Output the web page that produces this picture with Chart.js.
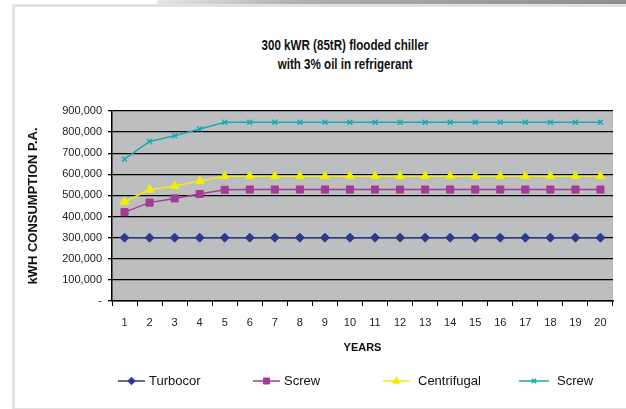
<!DOCTYPE html>
<html>
<head>
<meta charset="utf-8">
<script src="https://cdn.jsdelivr.net/npm/chart.js@4/dist/chart.umd.min.js"></script>
<style>
  html, body { margin: 0; padding: 0; background: #ffffff; }
  #wrap { position: relative; width: 626px; height: 409px; overflow: hidden; background: #fff; }
  #topbar { position: absolute; left: 157px; top: 0; width: 469px; height: 4px;
            background: linear-gradient(to right, #e6e6e6 0%, #b0b0b0 30%, #8e8e8e 100%); }
  #frame { position: absolute; left: 12px; top: 4px; width: 640px; height: 401px;
           border: 3px solid #e2e2e2; box-sizing: content-box; }
  #title { position: absolute; left: 195px; top: 36px; width: 300px; text-align: center;
           font-family: "Liberation Sans", sans-serif;
           font-weight: bold; font-size: 14.5px; line-height: 19px; color: #111;
           transform: scaleX(0.8); transform-origin: 150px 0; }
  canvas { position: absolute; left: 0; top: 0; }
</style>
</head>
<body>
<div id="wrap">
  <div id="topbar"></div>
  <div id="frame"></div>
  <div id="title">300 kWR (85tR) flooded chiller<br>with 3% oil in refrigerant</div>
  <canvas id="c" width="626" height="409"></canvas>
</div>
<script>
const years = ["1","2","3","4","5","6","7","8","9","10","11","12","13","14","15","16","17","18","19","20"];
const turbocor = [300000,300000,300000,300000,300000,300000,300000,300000,300000,300000,300000,300000,300000,300000,300000,300000,300000,300000,300000,300000];
const screw = [421000,466000,486000,507000,527000,528000,528000,528000,528000,528000,528000,528000,528000,528000,528000,528000,528000,528000,528000,528000];
const centrifugal = [470000,527000,545000,568000,591000,591000,591000,591000,591000,591000,591000,591000,591000,591000,591000,591000,591000,591000,591000,591000];
const screw2 = [672000,756000,783000,815000,847000,847000,847000,847000,847000,847000,847000,847000,847000,847000,847000,847000,847000,847000,847000,847000];
const seriesNames = ["Turbocor","Screw","Centrifugal","Screw"];
const yTicks = [0,100000,200000,300000,400000,500000,600000,700000,800000,900000];

const FONT = '"Liberation Sans", Arial, sans-serif';

const plotBg = {
  id: 'plotBg',
  beforeDraw(chart) {
    const {ctx, chartArea: a} = chart;
    ctx.save();
    ctx.fillStyle = '#bdbec0';
    ctx.fillRect(a.left, a.top, a.right - a.left, a.bottom - a.top);
    ctx.restore();
  }
};

const legendXs = [118, 253, 383, 519];
const customLegend = {
  id: 'customLegend',
  afterDraw(chart) {
    const ctx = chart.ctx;
    const y = 381;
    ctx.save();
    chart.data.datasets.forEach((ds, i) => {
      const x0 = legendXs[i];
      const lineW = i === 3 ? 30 : 27;
      ctx.strokeStyle = ds.borderColor;
      ctx.lineWidth = 1.5;
      ctx.beginPath();
      ctx.moveTo(x0, y);
      ctx.lineTo(x0 + lineW, y);
      ctx.stroke();
      ctx.fillStyle = ds.pointBackgroundColor;
      ctx.strokeStyle = ds.pointBorderColor;
      ctx.lineWidth = ds.pointBorderWidth;
      const opts = {pointStyle: ds.pointStyle, radius: ds.pointRadius * 0.85, rotation: 0, borderWidth: ds.pointBorderWidth};
      Chart.helpers.drawPoint(ctx, opts, x0 + lineW / 2, y);
      ctx.fillStyle = '#111';
      ctx.font = '13px ' + FONT;
      ctx.textBaseline = 'middle';
      ctx.textAlign = 'left';
      const gap = (i === 2 || i === 3) ? 8 : 4;
      ctx.fillText(ds.label, x0 + lineW + gap, y);
    });
    ctx.restore();
  }
};

new Chart(document.getElementById('c'), {
  type: 'line',
  data: {
    labels: years,
    datasets: [
      { label: seriesNames[0], data: turbocor, borderColor: '#2b3a8f', backgroundColor: '#2b3a8f',
        pointStyle: 'rectRot', pointRadius: 4.5, pointBackgroundColor: '#2b3a8f', pointBorderColor: '#2b3a8f', pointBorderWidth: 1, borderWidth: 1.5 },
      { label: seriesNames[1], data: screw, borderColor: '#a63a98', backgroundColor: '#a63a98',
        pointStyle: 'rect', pointRadius: 5, pointBackgroundColor: '#a63a98', pointBorderColor: '#a63a98', pointBorderWidth: 1, borderWidth: 1.5 },
      { label: seriesNames[2], data: centrifugal, borderColor: '#eeee10', backgroundColor: '#eeee10',
        pointStyle: 'triangle', pointRadius: 5, pointBackgroundColor: '#f0f000', pointBorderColor: '#f0f000', pointBorderWidth: 1, borderWidth: 1.5 },
      { label: seriesNames[3], data: screw2, borderColor: '#1aa8b8', backgroundColor: '#1aa8b8',
        pointStyle: 'crossRot', pointRadius: 3.5, pointBackgroundColor: '#1aa8b8', pointBorderColor: '#1aa8b8', pointBorderWidth: 1.5, borderWidth: 1.5 }
    ]
  },
  options: {
    responsive: false,
    animation: false,
    events: [],
    layout: { padding: { left: 26, top: 111, right: 13, bottom: 54 } },
    plugins: {
      legend: { display: false },
      title: { display: false },
      tooltip: { enabled: false }
    },
    elements: { line: { tension: 0 } },
    scales: {
      x: {
        offset: true,
        grid: { offset: true, drawOnChartArea: false, drawTicks: true, tickLength: 5, color: '#000', lineWidth: 1 },
        border: { color: '#000', width: 1.5 },
        ticks: { color: '#222', font: { family: FONT, size: 11 }, padding: 10, maxRotation: 0, autoSkip: false },
        title: { display: true, text: 'YEARS', color: '#111', font: { family: FONT, size: 11, weight: 'bold' }, padding: { top: 4, bottom: 0 } },
        afterFit(s) { s.height = 54; }
      },
      y: {
        min: 0, max: 900000,
        afterBuildTicks(s) { s.ticks = yTicks.map(v => ({ value: v })); },
        grid: { color: '#000', lineWidth: 1.3, drawTicks: true, tickLength: 4 },
        border: { color: '#000', width: 1.5 },
        ticks: {
          color: '#222', font: { family: FONT, size: 11 }, padding: 6,
          callback: v => v === 0 ? '-' : v.toLocaleString('en-US')
        },
        title: { display: true, text: 'kWH CONSUMPTION P.A.', color: '#111', font: { family: FONT, size: 13, weight: 'bold' }, padding: { top: 0, bottom: 10 } },
        afterFit(s) { s.width = 86; }
      }
    }
  },
  plugins: [plotBg, customLegend]
});
</script>
</body>
</html>
